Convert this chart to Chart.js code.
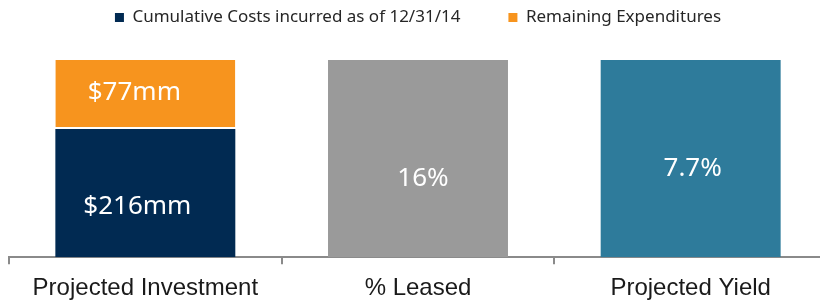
<!DOCTYPE html>
<html lang="en">

<head>
    <meta charset="UTF-8" />
    <script src="https://cdn.jsdelivr.net/npm/chart.js@4.4.1/dist/chart.umd.min.js"></script>
    <style>
        body { margin: 0; overflow: hidden; background: #fff; }
    </style>
</head>

<body>
    <canvas id="chart" width="830" height="302"></canvas>
    <script>
        // categories along the bottom
        const categories = ['Projected Investment', '% Leased', 'Projected Yield'];

        // bar fill (share of full bar height)
        const cumulativeShare = [65, null, null];
        const remainingShare = [35, null, null];
        const metricShare = [null, 100, 100];

        // text printed inside the bars
        const cumulativeText = ['$216mm', '', ''];
        const remainingText = ['$77mm', '', ''];
        const metricText = ['', '16%', '7.7%'];

        const seriesNames = ['Cumulative Costs incurred as of 12/31/14', 'Remaining Expenditures'];

        // fixed legend block height so the bars start lower
        const legendHeight = {
            id: 'legendHeight',
            beforeLayout(chart) {
                const lg = chart.legend;
                if (lg && !lg._patched) {
                    const fit = lg.fit;
                    lg.fit = function () {
                        fit.call(this);
                        this.height = 65;
                    };
                    lg._patched = true;
                }
            }
        };

        const barLabels = {
            id: 'barLabels',
            afterDatasetsDraw(chart) {
                const ctx = chart.ctx;
                ctx.save();
                ctx.fillStyle = '#ffffff';
                ctx.font = '26px "Noto Sans"';
                ctx.textAlign = 'center';
                ctx.textBaseline = 'middle';
                chart.data.datasets.forEach((ds, di) => {
                    const meta = chart.getDatasetMeta(di);
                    meta.data.forEach((bar, i) => {
                        const txt = ds.labelText[i];
                        if (!txt) return;
                        const off = ds.labelOffset[i];
                        ctx.fillText(txt, bar.x + off[0], (bar.y + bar.base) / 2 + off[1]);
                    });
                });
                ctx.restore();
            }
        };

        const ctx = document.getElementById('chart').getContext('2d');
        new Chart(ctx, {
            type: 'bar',
            data: {
                labels: categories,
                datasets: [{
                    label: seriesNames[0],
                    data: cumulativeShare,
                    backgroundColor: '#012a52',
                    labelText: cumulativeText,
                    labelOffset: [[-8, 13], [0, 0], [0, 0]]
                }, {
                    label: seriesNames[1],
                    data: remainingShare,
                    backgroundColor: '#f7941e',
                    borderColor: '#ffffff',
                    borderWidth: { top: 0, left: 0, right: 0, bottom: 2 },
                    borderSkipped: false,
                    labelText: remainingText,
                    labelOffset: [[-11, -2], [0, 0], [0, 0]]
                }, {
                    label: 'metric',
                    data: metricShare,
                    backgroundColor: ['#ffffff', '#9a9a9a', '#2e7b9b'],
                    labelText: metricText,
                    labelOffset: [[0, 0], [5, 20], [2, 10]]
                }]
            },
            options: {
                responsive: false,
                animation: false,
                layout: { padding: { left: 9, right: 3, top: -5, bottom: -11 } },
                datasets: {
                    bar: { categoryPercentage: 1, barPercentage: 0.66 }
                },
                plugins: {
                    tooltip: { enabled: false },
                    legend: {
                        position: 'top',
                        labels: {
                            boxWidth: 9,
                            boxHeight: 9,
                            padding: 14,
                            color: '#262626',
                            font: { family: '"Noto Sans"', size: 17 },
                            filter: item => item.datasetIndex < 2,
                            generateLabels(chart) {
                                const items = Chart.defaults.plugins.legend.labels.generateLabels(chart);
                                items.forEach(it => {
                                    it.lineWidth = 0;
                                    if (it.datasetIndex === 0) it.text = it.text + '\u2003\u2003';
                                });
                                return items;
                            }
                        }
                    }
                },
                scales: {
                    x: {
                        stacked: true,
                        border: { display: true, color: '#8a8a8a', width: 2 },
                        grid: {
                            display: true,
                            drawOnChartArea: false,
                            drawTicks: true,
                            tickLength: 7,
                            color: '#8a8a8a',
                            lineWidth: 2
                        },
                        ticks: {
                            padding: 10,
                            color: '#1a1a1a',
                            font: { family: '"Liberation Sans"', size: 24 }
                        }
                    },
                    y: {
                        stacked: true,
                        display: false,
                        min: 0,
                        max: 100
                    }
                }
            },
            plugins: [legendHeight, barLabels]
        });
    </script>
</body>

</html>
